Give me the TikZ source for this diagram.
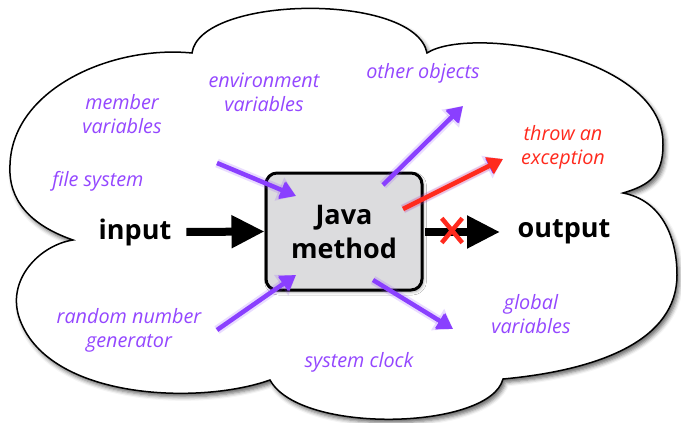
\documentclass[tikz,border=0pt]{standalone}
\usepackage{fontspec}
\setmainfont{Open Sans}
\usetikzlibrary{arrows.meta,shadows.blur,shapes.misc}
\definecolor{violet}{HTML}{8A3FFF}
\definecolor{violettext}{HTML}{9447FF}
\definecolor{alarm}{HTML}{FF2A1E}
\definecolor{boxgray}{HTML}{DCDCDE}
\tikzset{
  lbl/.style={text=violettext, font=\fontsize{19.8}{24}\selectfont\itshape, align=center, inner sep=0pt},
  redlbl/.style={lbl, text=alarm},
  big/.style={font=\fontsize{27}{34}\selectfont\bfseries, align=center, inner sep=0pt},
  parr/.style={draw=violet, line width=4.5pt, -{Triangle[length=15pt,width=18pt]},
    preaction={draw=violet, draw opacity=0.18, line width=9pt, -{Triangle[length=18pt,width=24pt]}}},
  rarr/.style={parr, draw=alarm, preaction={draw=alarm, draw opacity=0.15, line width=8pt}},
  barr/.style={draw=black, line width=8pt, -{Triangle[length=33pt,width=31pt]}},
}
\begin{document}
\begin{tikzpicture}[x=1pt,y=-1pt]
\useasboundingbox (0,0) rectangle (681,423);

% cloud outline
\path[fill=white, draw=black, line width=1.5pt,
      blur shadow={shadow xshift=2.5pt, shadow yshift=-3.5pt, shadow blur radius=4pt, shadow opacity=60}]
  (192,53) .. controls (200,-5) and (415,-8) .. (427,53)
  .. controls (470,25) and (665,55) .. (663,145)
  .. controls (663,175) and (650,185) .. (623,193)
  .. controls (660,200) and (677,235) .. (677,275)
  .. controls (677,340) and (600,370) .. (503,379)
  .. controls (490,430) and (300,435) .. (270,380)
  .. controls (200,405) and (50,400) .. (20,320)
  .. controls (5,280) and (40,245) .. (73,240)
  .. controls (30,225) and (8,200) .. (10,165)
  .. controls (12,90) and (110,45) .. (192,53) -- cycle;

% the method box
\node[big, draw=black, line width=3pt, fill=boxgray, rounded corners=11pt,
      minimum width=156pt, minimum height=117pt,
      blur shadow={shadow xshift=1.5pt, shadow yshift=-2pt, shadow blur radius=3pt, shadow opacity=35}]
  (jm) at (344,231.5) {Java\\method};

% input and output
\node[big] (in) at (135,232) {input};
\node[big] (out) at (564,232) {output};
\draw[barr] ([xshift=15pt]in.east) -- (jm.west);
\coordinate (outtip) at (500,232);
\draw[barr, shorten <=1.5pt] (jm.east |- outtip) -- (outtip);
\node[cross out, draw=alarm, line width=4.5pt, minimum width=16pt, minimum height=20pt, inner sep=0pt] (stop) at (452,230.5) {};

% labels
\node[lbl] (member) at (122,114) {member\\variables};
\node[lbl] (env) at (264,92) {environment\\variables};
\node[lbl] (files) at (98,181) {file system};
\node[lbl] (objs) at (423,73) {other objects};
\node[redlbl] (throw) at (563,147) {throw an\\exception};
\node[lbl] (rng) at (129,330) {random number\\generator};
\node[lbl] (clock) at (359,362) {system clock};
\node[lbl] (glob) at (531,314.5) {global\\variables};

% side effects into and out of the method
\coordinate (envS) at (217,163);   \coordinate (envE) at (296,196);
\coordinate (rngS) at (217,330);   \coordinate (rngE) at (296,275);
\coordinate (objS) at (383,185);   \coordinate (objE) at (463,106);
\coordinate (globS) at (373,280);  \coordinate (globE) at (453,329);
\coordinate (thrS) at (403,209);   \coordinate (thrE) at (503,159);
\draw[parr] (envS) -- (envE);
\draw[parr] (rngS) -- (rngE);
\draw[parr] (objS) -- (objE);
\draw[parr] (globS) -- (globE);
\draw[rarr] (thrS) -- (thrE);
\end{tikzpicture}
\end{document}
